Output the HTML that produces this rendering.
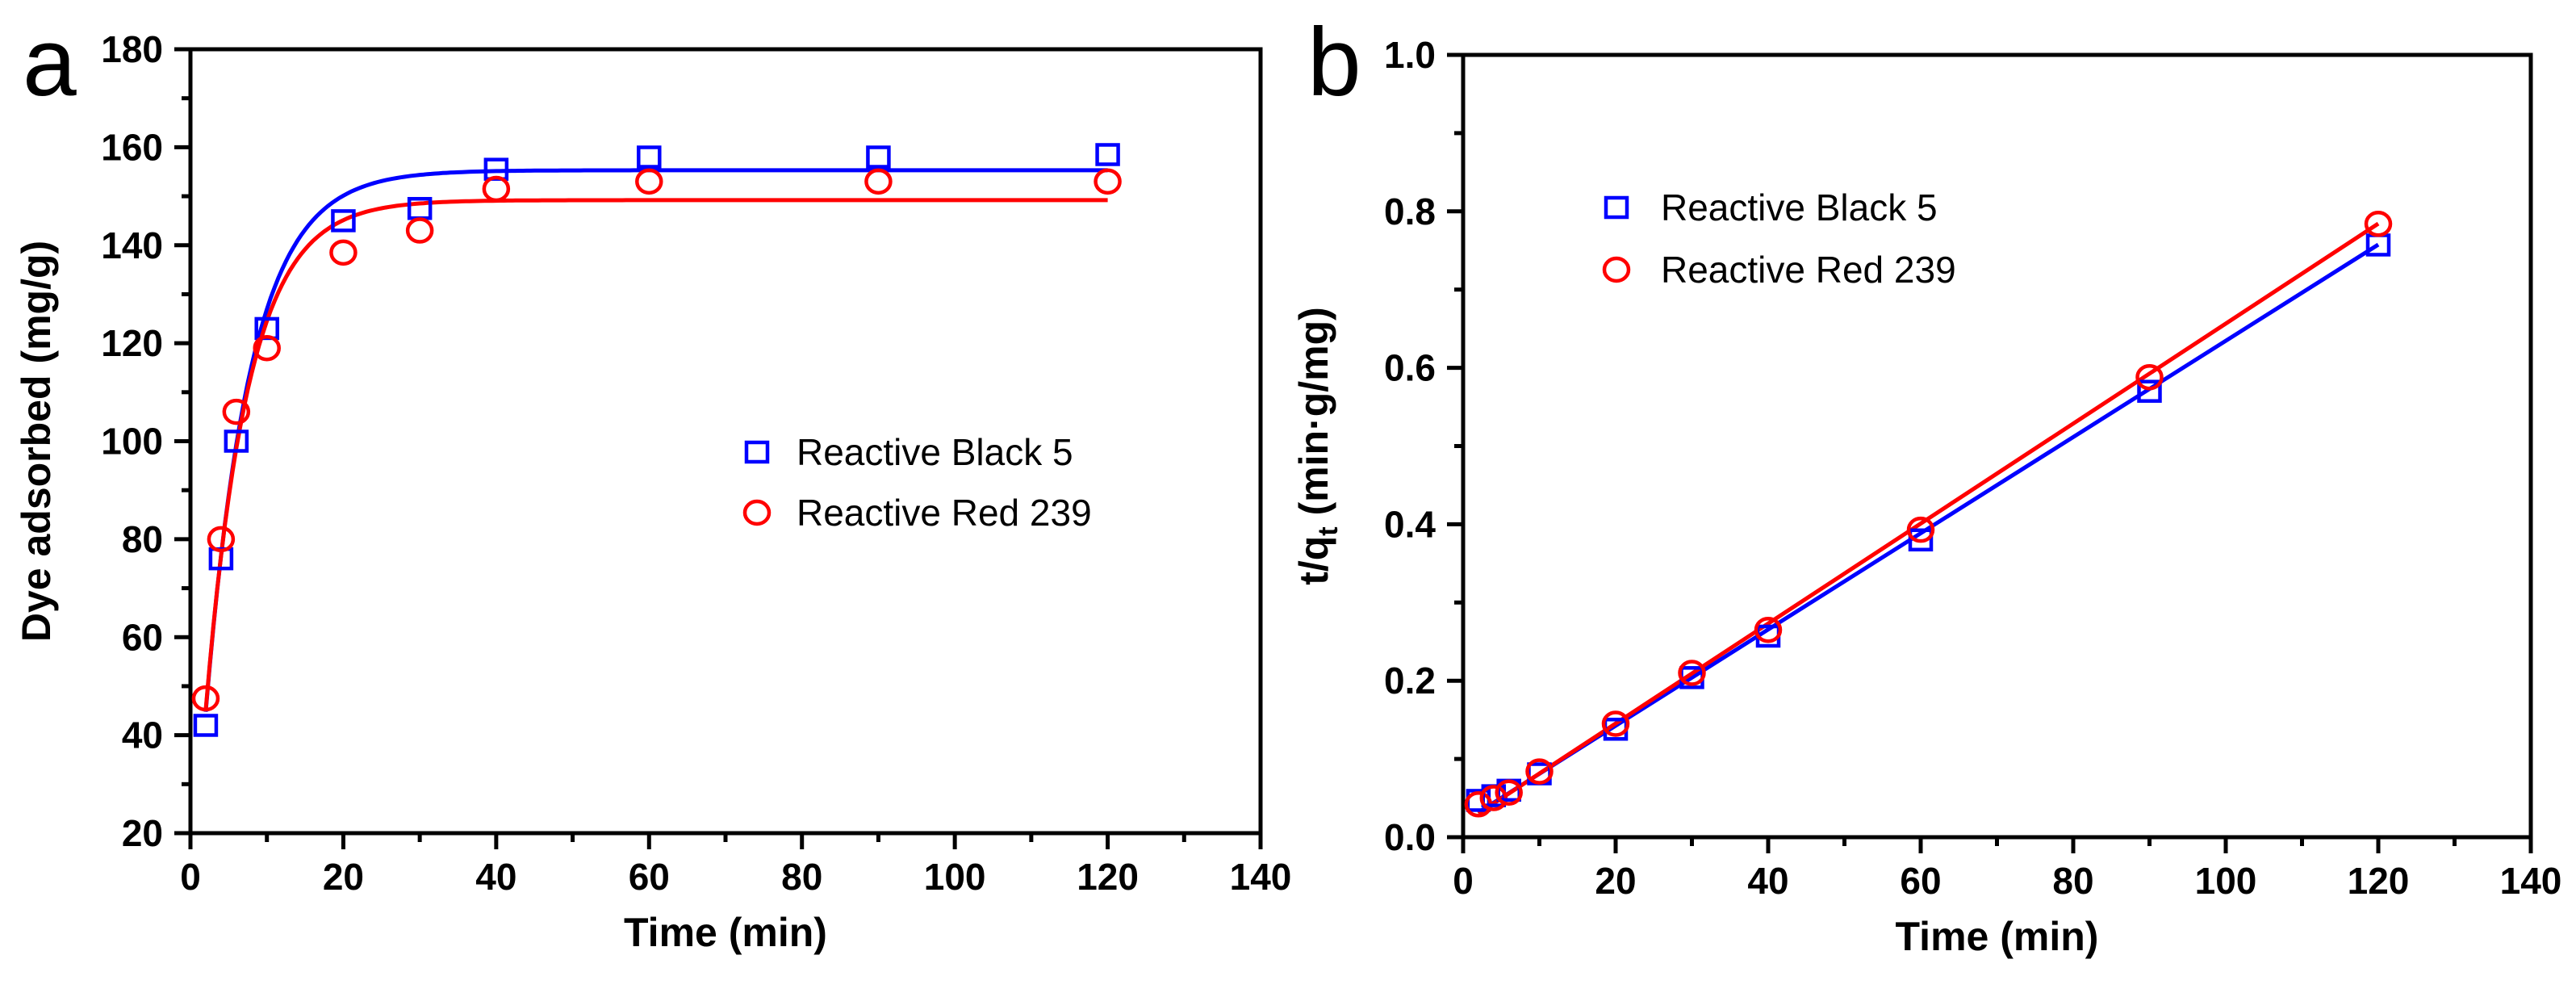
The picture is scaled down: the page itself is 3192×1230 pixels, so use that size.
<!DOCTYPE html>
<html><head><meta charset="utf-8"><style>
html,body{margin:0;padding:0;background:#fff}
svg{display:block}
text{font-family:"Liberation Sans",Arial,sans-serif}
</style></head><body>
<svg id="chart" width="3192" height="1230" viewBox="0 0 3192 1230" xmlns="http://www.w3.org/2000/svg">
<g id="pa"></g>
<g id="pb"></g>
</svg>
<script>
const times = [2, 4, 6, 10, 20, 30, 40, 60, 90, 120];
const rb5Adsorbed = [42, 76, 100, 123, 145, 147.5, 155.5, 158, 158, 158.5];
const rr239Adsorbed = [47.5, 80, 106, 119, 138.5, 143, 151.5, 153, 153, 153];
const rb5FitParams = [155.3, 0.17];   // qe, k
const rr239FitParams = [149.2, 0.18];
const rb5TQ = [0.047, 0.053, 0.06, 0.081, 0.138, 0.204, 0.257, 0.38, 0.57, 0.757];
const rr239TQ = [0.042, 0.05, 0.057, 0.084, 0.145, 0.21, 0.265, 0.393, 0.588, 0.784];
const rb5LinParams = [0.0195, 0.00615]; // intercept, slope
const rr239LinParams = [0.0175, 0.00639];
const xTicks = [0, 20, 40, 60, 80, 100, 120, 140];
const yTicksA = [20, 40, 60, 80, 100, 120, 140, 160, 180];
const yTicksB = ["0.0", "0.2", "0.4", "0.6", "0.8", "1.0"];
const seriesNames = ["Reactive Black 5", "Reactive Red 239"];

const NS = "http://www.w3.org/2000/svg";
function mk(parent, tag, attrs, txt) {
  const e = document.createElementNS(NS, tag);
  for (const k in attrs) e.setAttribute(k, attrs[k]);
  if (txt !== undefined) e.textContent = txt;
  parent.appendChild(e);
  return e;
}

function panel(g, cfg) {
  const {L, R, T, B, xmin, xmax, ymin, ymax} = cfg;
  const sx = v => L + (v - xmin) / (xmax - xmin) * (R - L);
  const sy = v => B - (v - ymin) / (ymax - ymin) * (B - T);
  // frame
  const fr = mk(g, "rect", {x: L, y: T, width: R - L, height: B - T, fill: "none", stroke: "#000", "stroke-width": 5});
  
  
  // x ticks
  xTicks.forEach((v, i) => {
    const x = sx(v);
    const t = mk(g, "line", {x1: x, x2: x, y1: B, y2: B + 20, stroke: "#000", "stroke-width": 5});
    
    
    const lb = mk(g, "text", {x: x, y: B + 70, "text-anchor": "middle", "font-size": 46, "font-weight": "bold"}, String(v));
    
    
    if (i < xTicks.length - 1) {
      const xm = sx((v + xTicks[i + 1]) / 2);
      const m = mk(g, "line", {x1: xm, x2: xm, y1: B, y2: B + 11, stroke: "#000", "stroke-width": 5});
      
      
    }
  });
  cfg.yTicks.forEach((lab, i) => {
    const v = parseFloat(lab);
    const y = sy(v);
    const t = mk(g, "line", {x1: L - 20, x2: L, y1: y, y2: y, stroke: "#000", "stroke-width": 5});
    
    
    const lb = mk(g, "text", {x: L - 34, y: y + 16, "text-anchor": "end", "font-size": 46, "font-weight": "bold"}, String(lab));
    
    
    if (i < cfg.yTicks.length - 1) {
      const ym = sy((v + parseFloat(cfg.yTicks[i + 1])) / 2);
      const m = mk(g, "line", {x1: L - 11, x2: L, y1: ym, y2: ym, stroke: "#000", "stroke-width": 5});
      
      
    }
  });
  // axis titles
  const xt = mk(g, "text", {x: (L + R) / 2, y: B + 140, "text-anchor": "middle", "font-size": 50, "font-weight": "bold"}, "Time (min)");
  
  
  const yt = mk(g, "text", {x: 0, y: 0, "text-anchor": "middle", "font-size": 50, "font-weight": "bold", transform: `translate(${cfg.ytx},${(T + B) / 2}) rotate(-90)`});
  
  
  if (cfg.sub) {
    yt.appendChild(document.createTextNode("t/q"));
    const s = mk(yt, "tspan", {"font-size": 34, dy: 12}, "t");
    mk(yt, "tspan", {dy: -12}, " (min·g/mg)");
  } else yt.textContent = cfg.ytitle;
  const pl = mk(g, "text", {x: cfg.letterX, y: 118, "font-size": 120}, cfg.letter);
  
  
  return {sx, sy};
}

function square(g, x, y, name) {
  const s = mk(g, "rect", {x: x - 13, y: y - 12, width: 26, height: 24, fill: "none", stroke: "#0000ff", "stroke-width": 4.5});
  
  
}
function circle(g, x, y, name) {
  const c = mk(g, "ellipse", {cx: x, cy: y, rx: 15, ry: 14, fill: "none", stroke: "#ff0000", "stroke-width": 4.5});
  
  
}
function legend(g, x, y1, y2, tx) {
  square(g, x, y1, 'legend-marker-rb5');
  const a = mk(g, "text", {x: tx, y: y1 + 16, "font-size": 46}, seriesNames[0]);
  
  
  circle(g, x, y2, 'legend-marker-rr239');
  const b = mk(g, "text", {x: tx, y: y2 + 16, "font-size": 46}, seriesNames[1]);
  
  
}

// Panel a
const ga = document.getElementById("pa");
const A = panel(ga, {L: 236, R: 1562, T: 61, B: 1032, xmin: 0, xmax: 140, ymin: 20, ymax: 180, yTicks: yTicksA, ytx: 62, ytitle: "Dye adsorbed (mg/g)", letter: "a", letterX: 28});
function fitPath(p, sx, sy) {
  let d = "";
  for (let t = 2; t <= 120.001; t += 0.5) {
    const v = p[0] * (1 - Math.exp(-p[1] * t));
    d += (d ? "L" : "M") + sx(t).toFixed(1) + "," + sy(v).toFixed(1);
  }
  return d;
}
const fb = mk(ga, "path", {d: fitPath(rb5FitParams, A.sx, A.sy), fill: "none", stroke: "#0000ff", "stroke-width": 5});


const fr = mk(ga, "path", {d: fitPath(rr239FitParams, A.sx, A.sy), fill: "none", stroke: "#ff0000", "stroke-width": 5});


times.forEach((t, i) => {
  square(ga, A.sx(t), A.sy(rb5Adsorbed[i]), 'rb5-point');
  circle(ga, A.sx(t), A.sy(rr239Adsorbed[i]), 'rr239-point');
});
legend(ga, 938, 560, 635, 987);

// Panel b
const gb = document.getElementById("pb");
const Bp = panel(gb, {L: 1813, R: 3136, T: 68, B: 1037, xmin: 0, xmax: 140, ymin: 0, ymax: 1, yTicks: yTicksB, ytx: 1645, sub: true, letter: "b", letterX: 1620});
function linLine(p, name, color) {
  const l = mk(gb, "line", {x1: Bp.sx(2), y1: Bp.sy(p[0] + p[1] * 2), x2: Bp.sx(120), y2: Bp.sy(p[0] + p[1] * 120), stroke: color, "stroke-width": 5});
  
  
}
linLine(rb5LinParams, 'rb5-fit-line', '#0000ff');
linLine(rr239LinParams, 'rr239-fit-line', '#ff0000');
times.forEach((t, i) => {
  square(gb, Bp.sx(t), Bp.sy(rb5TQ[i]), 'rb5-point');
  circle(gb, Bp.sx(t), Bp.sy(rr239TQ[i]), 'rr239-point');
});
legend(gb, 2003, 257, 334, 2058);
</script>
</body></html>
